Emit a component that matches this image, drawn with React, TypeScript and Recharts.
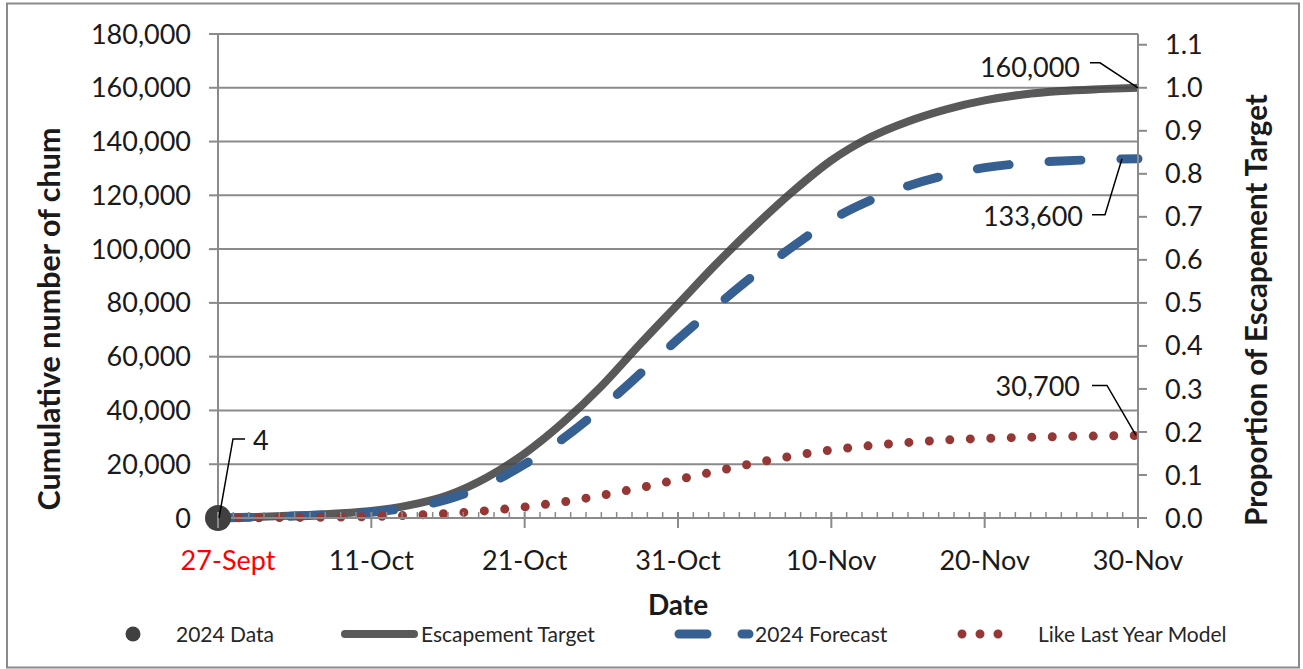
import { CartesianGrid, ComposedChart, Line, XAxis, YAxis } from 'recharts';

// day 0 = first tick (labelled 27-Sept), one unit per day up to 30-Nov
const days = [0, 2.5, 5, 7.5, 10, 12.5, 15, 17.5, 20, 22.5, 25, 27.5, 30, 32.5, 35, 37.5, 40, 42.5, 45, 47.5, 50, 52.5, 55, 57.5, 60];
const escapementTarget = [0, 400, 900, 1600, 2600, 4800, 8500, 15000, 24000, 35500, 49000, 64500, 79500, 94500, 108500, 121500, 133000, 141500, 147500, 152000, 155300, 157500, 158800, 159500, 160000];
const forecast2024 = [0, 300, 700, 1300, 2100, 3900, 7000, 12300, 20000, 29500, 40800, 53500, 66500, 78800, 90500, 101000, 110800, 118000, 123500, 127500, 130300, 131900, 132800, 133300, 133600];
const likeLastYear = [0, 100, 200, 350, 550, 1000, 1700, 2700, 4100, 6000, 8400, 11200, 14300, 17400, 20400, 23100, 25300, 26900, 28100, 29000, 29600, 30000, 30300, 30500, 30700];
const data2024Days = [0];
const data2024Values = [4];

const tickDays = [0, 10, 20, 30, 40, 50, 60];
const tickLabels = ['27-Sept', '11-Oct', '21-Oct', '31-Oct', '10-Nov', '20-Nov', '30-Nov'];
const leftTicks = [0, 20000, 40000, 60000, 80000, 100000, 120000, 140000, 160000, 180000];
const rightTicks = [0, 0.1, 0.2, 0.3, 0.4, 0.5, 0.6, 0.7, 0.8, 0.9, 1.0, 1.1];
const minorDays = Array.from({ length: 61 }, (_, i) => i);

const data = days.map((d, i) => {
  const k = data2024Days.indexOf(d);
  return {
    day: d,
    target: escapementTarget[i],
    forecast: forecast2024[i],
    lly: likeLastYear[i],
    actual: k >= 0 ? data2024Values[k] : null,
  };
});

const GRID = '#8a8a8a';
const GRAY = '#404040';
const BLUE = '#376092';
const RED = '#953735';
const TEXT = '#1a1a1a';
const fmt = (v: number) => v.toLocaleString('en-US');

const XTick = (props: any) => {
  const { x, y, payload } = props;
  const idx = tickDays.indexOf(payload.value);
  if (idx < 0) {
    return <line x1={x} x2={x} y1={y - 6} y2={y} stroke={GRID} strokeWidth={1.5} />;
  }
  return (
    <g>
      <line x1={x} x2={x} y1={y - 6} y2={y + 10} stroke={GRID} strokeWidth={2} />
      <text
        x={x + (idx === 0 ? 10 : 0)}
        y={y + 52}
        textAnchor="middle"
        fontSize={27}
        fill={idx === 0 ? '#ff0000' : TEXT}
      >
        {tickLabels[idx]}
      </text>
    </g>
  );
};

// callout: leader polyline from the point, then text
const callout = (match: number, pts: number[][], tx: number, ty: number, anchor: string) => (props: any) => {
  const { x, y, value } = props;
  if (value !== match || x == null) return null;
  const d = pts.map((p, i) => `${i ? 'L' : 'M'}${x + p[0]},${y + p[1]}`).join(' ');
  return (
    <g>
      <path d={d} fill="none" stroke="#000" strokeWidth={1.5} />
      <text x={x + tx} y={y + ty} textAnchor={anchor} dominantBaseline="central" fontSize={27} fill={TEXT}>
        {fmt(value)}
      </text>
    </g>
  );
};

const lastTarget = escapementTarget[escapementTarget.length - 1];
const lastForecast = forecast2024[forecast2024.length - 1];
const lastLly = likeLastYear[likeLastYear.length - 1];

export default function App() {
  return (
    <div style={{ position: 'absolute', left: 0, top: 0, width: 1303, height: 669, background: '#fff', fontFamily: 'Lato, sans-serif' }}>
      <ComposedChart width={1303} height={669} data={data} margin={{ top: 34, right: 0, bottom: 0, left: 0 }}>
        <CartesianGrid yAxisId="left" vertical={false} stroke={GRID} strokeWidth={2} />
        <XAxis
          dataKey="day"
          type="number"
          domain={[0, 60]}
          ticks={minorDays}
          interval={0}
          height={151}
          tickSize={0}
          tickMargin={0}
          tickLine={false}
          axisLine={{ stroke: GRID, strokeWidth: 2 }}
          tick={<XTick />}
        />
        <YAxis
          yAxisId="left"
          width={218}
          domain={[0, 180000]}
          ticks={leftTicks}
          interval={0}
          tickSize={9}
          tickMargin={18}
          tickFormatter={fmt}
          tick={{ fontSize: 27, fill: TEXT }}
          axisLine={{ stroke: GRID, strokeWidth: 2 }}
          tickLine={{ stroke: GRID, strokeWidth: 2 }}
        />
        <YAxis
          yAxisId="right"
          orientation="right"
          width={165}
          domain={[0, 1.125]}
          allowDataOverflow
          ticks={rightTicks}
          interval={0}
          tickSize={9}
          tickMargin={18}
          tickFormatter={(v: number) => v.toFixed(1)}
          tick={{ fontSize: 27, fill: TEXT, textAnchor: 'start' }}
          axisLine={{ stroke: GRID, strokeWidth: 2 }}
          tickLine={{ stroke: GRID, strokeWidth: 2 }}
        />
        <Line
          yAxisId="left"
          type="monotone"
          dataKey="target"
          stroke={GRAY}
          strokeOpacity={0.87}
          strokeWidth={8}
          dot={false}
          isAnimationActive={false}
          label={callout(lastTarget, [[0, 0], [-38, -25], [-48, -25]], -58, -21, 'end')}
        />
        <Line
          yAxisId="left"
          type="monotone"
          dataKey="forecast"
          stroke={BLUE}
          strokeWidth={9}
          strokeDasharray="32 40"
          strokeLinecap="round"
          dot={false}
          isAnimationActive={false}
          label={callout(lastForecast, [[-16, 0], [-33, 56], [-46, 56]], -55, 57, 'end')}
        />
        <Line
          yAxisId="left"
          type="monotone"
          dataKey="lly"
          stroke={RED}
          strokeWidth={9}
          strokeDasharray="0 20.5"
          strokeLinecap="round"
          dot={false}
          isAnimationActive={false}
          label={callout(lastLly, [[-2, 0], [-31, -50], [-46, -50]], -58, -50, 'end')}
        />
        <Line
          yAxisId="left"
          dataKey="actual"
          stroke="none"
          dot={{ r: 13, fill: GRAY, stroke: 'none' }}
          isAnimationActive={false}
          label={callout(data2024Values[0], [[1, 0], [15, -79], [27, -79]], 35, -78, 'start')}
        />
      </ComposedChart>

      <svg width={1303} height={669} style={{ position: 'absolute', left: 0, top: 0, pointerEvents: 'none' }}>
        <rect x={7} y={3.5} width={1292} height={664} fill="none" stroke={GRID} strokeWidth={2} />
        <text transform="translate(60,319) rotate(-90)" textAnchor="middle" fontSize={30.5} fontWeight="bold" fill={TEXT}>
          Cumulative number of chum
        </text>
        <text transform="translate(1267,310) rotate(-90)" textAnchor="middle" fontSize={29.5} fontWeight="bold" fill={TEXT}>
          Proportion of Escapement Target
        </text>
        <text x={678} y={615} textAnchor="middle" fontSize={28} fontWeight="bold" fill={TEXT}>
          Date
        </text>
        <g fontSize={21} fill="#262626">
          <circle cx={133} cy={634} r={7.5} fill={GRAY} />
          <text x={176} y={642}>2024 Data</text>
          <line x1={345} x2={414} y1={634} y2={634} stroke={GRAY} strokeOpacity={0.87} strokeWidth={8} strokeLinecap="round" />
          <text x={421} y={642}>Escapement Target</text>
          <line x1={679} x2={749} y1={634} y2={634} stroke={BLUE} strokeWidth={9} strokeDasharray="28 35" strokeLinecap="round" />
          <text x={755} y={642}>2024 Forecast</text>
          <line x1={962} x2={1016} y1={634} y2={634} stroke={RED} strokeWidth={9} strokeDasharray="0 18" strokeLinecap="round" />
          <text x={1038} y={642}>Like Last Year Model</text>
        </g>
      </svg>
    </div>
  );
}
